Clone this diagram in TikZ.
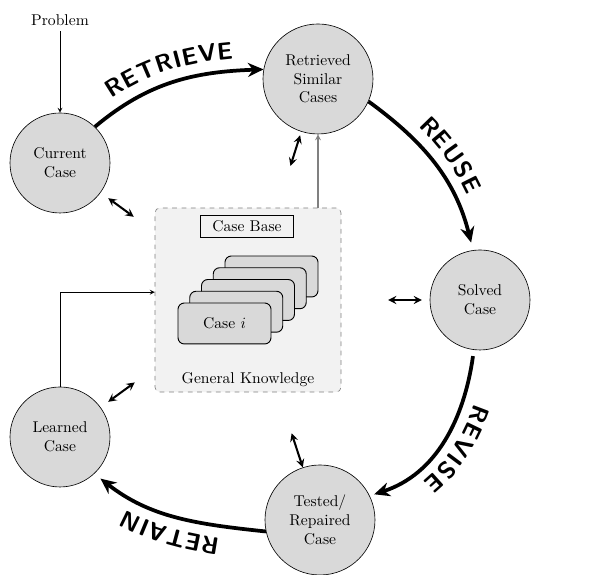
\documentclass[tikz,border=0pt]{standalone}
\usepackage{amsmath}
\usetikzlibrary{arrows.meta,decorations.text,positioning,calc}

\begin{document}
\begin{tikzpicture}[x=0.64pt,y=0.64pt,>=stealth,
    casenode/.style={circle,draw,fill=gray!30,align=center,inner sep=0pt,minimum size=64pt},
    bigcase/.style={casenode,minimum size=70.4pt},
    phase/.style={line width=2.4pt,-{Stealth[length=10pt,width=9pt]}},
    phaselabel/.style={postaction={decorate},
      decoration={text along path,text align=center,raise=8pt,
        text={|\sffamily\bfseries\fontsize{15.5}{19}\selectfont|#1}}},
    kblink/.style={<->,line width=1.3pt},
    card/.style={draw,rounded corners=4pt,fill=gray!30,line width=0.6pt,
      minimum width=59.5pt,minimum height=26.2pt}]
  \useasboundingbox (0,0) rectangle (604,575);

  %--- knowledge container ---
  \node[draw=gray,dashed,fill=gray!10,rounded corners=3pt,
        minimum width=119pt,minimum height=117.8pt] (kb) at (248,275) {};
  \node[draw,line width=0.5pt,minimum width=60pt,minimum height=14pt] (cb) at (247,349) {Case Base};
  \foreach \k in {4,...,1}
    \node[card] (card\k) at (224.5+11.75*\k,251.5+11.75*\k) {};
  \node[card] (card0) at (224.5,251.5) {Case $i$};
  \node (gk) at (248,195) {General Knowledge};

  %--- the four cases of the cycle ---
  \node (prob) at (60,555) {Problem};
  \node[casenode] (cur) at (60,412) {Current\\Case};
  \node[bigcase] (ret) at (318,496) {Retrieved\\Similar\\Cases};
  \node[casenode] (sol) at (480,275) {Solved\\Case};
  \node[bigcase] (tst) at (320,55) {Tested/\\Repaired\\Case};
  \node[casenode] (lrn) at (60,138) {Learned\\Case};

  %--- cycle ---
  \draw[phase,phaselabel=RETRIEVE] (cur.46) to[out=40,in=182] (ret.170);
  \draw[phase,phaselabel=REUSE,shorten >=5pt] (ret.-24) to[out=-36,in=104] (sol.98);
  \draw[phase,phaselabel=REVISE,shorten <=4pt,shorten >=3pt] (sol.-97) to[out=-98,in=18] (tst.26);
  \draw[phase,phaselabel=RETAIN,shorten >=5pt] (tst.192) to[out=174,in=-38] (lrn.-47);

  %--- links to the case base ---
  \draw[kblink,shorten <=6pt,shorten >=16.6pt] (cur) -- (kb);
  \draw[kblink,shorten <=2.4pt,shorten >=28pt] (ret) -- (kb);
  \draw[kblink,shorten <=5pt,shorten >=30pt] (sol) -- (kb);
  \draw[kblink,shorten <=0pt,shorten >=27.6pt] (tst) -- (kb);
  \draw[kblink,shorten <=6pt,shorten >=15.8pt] (lrn) -- (kb);

  \draw[->] (prob) -- (cur);
  \draw[->,gray,line width=0.7pt] (kb.north -| ret) -- (ret);
  \draw[->] (lrn) |- ([yshift=5pt]kb.west);
\end{tikzpicture}
\end{document}
